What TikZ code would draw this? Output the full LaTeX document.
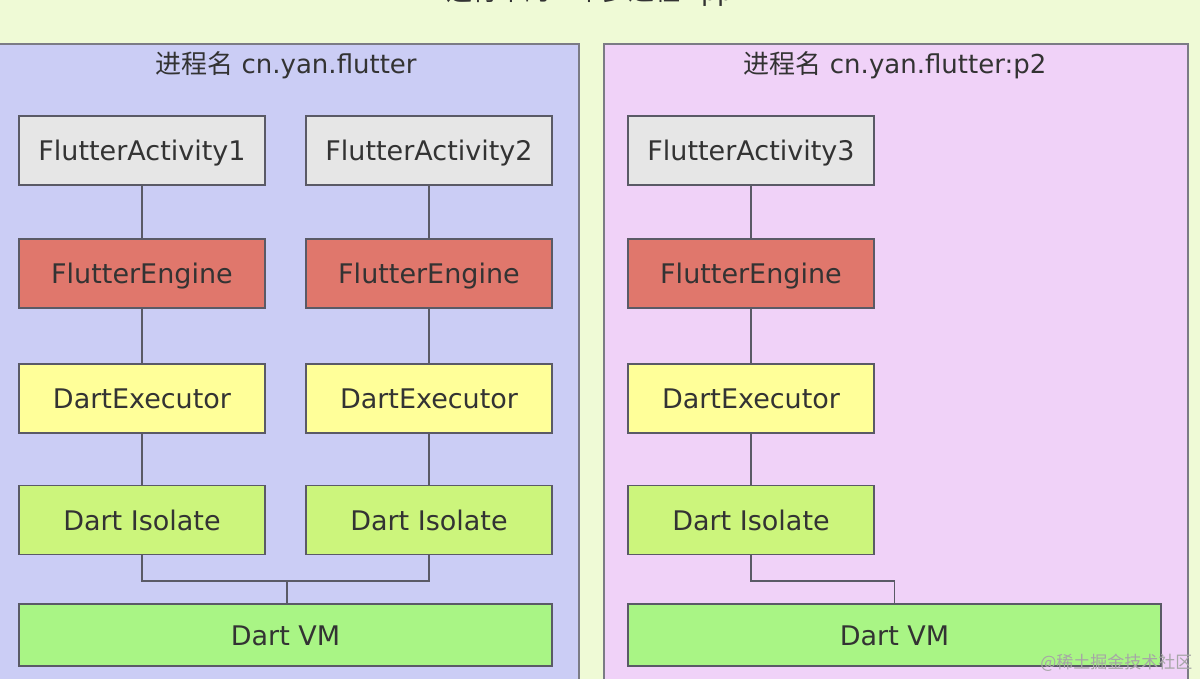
\documentclass[tikz,border=0pt]{standalone}
\usepackage{fontspec}
\setmainfont{DejaVu Sans}
\newfontfamily\cjk{Noto Sans CJK SC}
\definecolor{bgc}{HTML}{EFFAD6}
\definecolor{leftp}{HTML}{CBCDF5}
\definecolor{rightp}{HTML}{F0D2F8}
\definecolor{actc}{HTML}{E6E6E6}
\definecolor{engc}{HTML}{E0776C}
\definecolor{exc}{HTML}{FFFF99}
\definecolor{isoc}{HTML}{CCF57C}
\definecolor{vmc}{HTML}{A9F585}
\definecolor{edgec}{HTML}{5A5A66}
\definecolor{txtc}{HTML}{333333}
\tikzset{
  panel/.style={draw=edgec!80, line width=2pt},
  box/.style={draw=edgec, line width=1.6pt, minimum width=246pt, minimum height=69pt, inner sep=0pt, text height=20pt, text depth=0pt, text=txtc, font=\fontsize{27}{30}\selectfont},
  vmbox/.style={box, minimum width=533pt, minimum height=62pt},
  link/.style={draw=edgec, line width=1.6pt},
  ttl/.style={text=txtc, font=\fontsize{26}{30}\selectfont}
}
\begin{document}
\begin{tikzpicture}[x=1pt,y=-1pt]
\useasboundingbox (0,0) rectangle (1200,679);
\fill[bgc] (0,0) rectangle (1200,679);
\node[ttl] (title) at (590,-7) {\cjk 运行中的一个多进程 App};
% panels
\path[panel, fill=leftp] (-3,44) rectangle (579,690);
\path[panel, fill=rightp] (604,44) rectangle (1188,690);
\node[ttl] (t1) at (286,65) {{\cjk 进程名} cn.yan.flutter};
\node[ttl] (t2) at (895,65) {{\cjk 进程名} cn.yan.flutter:p2};
% left column 1
\node[box, fill=actc] (a1) at (142,150.5) {FlutterActivity1};
\node[box, fill=engc] (e1) at (142,273.5) {FlutterEngine};
\node[box, fill=exc] (x1) at (142,398.5) {DartExecutor};
\node[box, fill=isoc] (i1) at (142,520) {Dart Isolate};
% left column 2
\node[box, fill=actc] (a2) at (429,150.5) {FlutterActivity2};
\node[box, fill=engc] (e2) at (429,273.5) {FlutterEngine};
\node[box, fill=exc] (x2) at (429,398.5) {DartExecutor};
\node[box, fill=isoc] (i2) at (429,520) {Dart Isolate};
% right column
\node[box, fill=actc] (a3) at (751,150.5) {FlutterActivity3};
\node[box, fill=engc] (e3) at (751,273.5) {FlutterEngine};
\node[box, fill=exc] (x3) at (751,398.5) {DartExecutor};
\node[box, fill=isoc] (i3) at (751,520) {Dart Isolate};
% VMs
\node[vmbox, fill=vmc] (vm1) at (285.5,635) {Dart VM};
\node[vmbox, fill=vmc] (vm2) at (894.5,635) {Dart VM};
% links
\foreach \c in {1,2,3}{
  \draw[link] (a\c) -- (e\c);
  \draw[link] (e\c) -- (x\c);
  \draw[link] (x\c) -- (i\c);
}
\coordinate (j1) at (287,581);
\draw[link] (i1.south) |- (j1) -| (i2.south);
\draw[link] (j1) -- (vm1.north -| j1);
\draw[link] (i3.south) |- (vm2.north |- j1) -- (vm2.north);
\node[text=gray!70, font=\cjk\fontsize{17}{20}\selectfont, anchor=east] (wm) at (1196,663) {@稀土掘金技术社区};
\end{tikzpicture}
\end{document}
